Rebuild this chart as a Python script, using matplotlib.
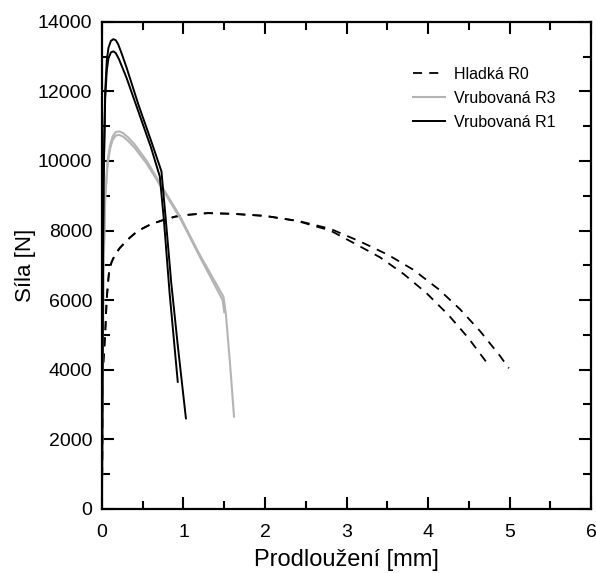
import matplotlib
matplotlib.use("Agg")
import matplotlib.pyplot as plt
from matplotlib.ticker import MultipleLocator

plt.rcParams['font.family'] = ['Liberation Sans Narrow', 'Liberation Sans', 'DejaVu Sans']

# Hladka R0 (two specimens, dashed)
r0a_x = [0, 0.005, 0.015, 0.04, 0.058, 0.075, 0.09, 0.12, 0.16, 0.22, 0.28, 0.34, 0.42,
         0.5, 0.6, 0.75, 0.9, 1.05, 1.3, 1.6, 2.0, 2.4, 2.8, 3.17, 3.51, 3.82, 4.13,
         4.39, 4.64, 4.88, 4.99]
r0a_y = [0, 1500, 4100, 5050, 6000, 6500, 6870, 7100, 7300, 7500, 7650, 7790, 7950,
         8060, 8180, 8300, 8400, 8450, 8500, 8480, 8420, 8280, 8050, 7680, 7300, 6870,
         6310, 5740, 5100, 4400, 4040]
r0b_x = [0, 0.005, 0.015, 0.04, 0.058, 0.075, 0.09, 0.12, 0.16, 0.22, 0.28, 0.34, 0.42,
         0.5, 0.6, 0.75, 0.9, 1.05, 1.3, 1.6, 2.0, 2.4, 2.8, 3.08, 3.41, 3.70, 3.98,
         4.25, 4.49, 4.72]
r0b_y = [0, 1500, 4100, 5050, 6000, 6500, 6870, 7100, 7300, 7500, 7650, 7790, 7950,
         8060, 8180, 8300, 8400, 8450, 8500, 8480, 8420, 8270, 8000, 7650, 7230, 6750,
         6200, 5570, 4920, 4200]

# Vrubovana R3 (two specimens, light grey)
r3a_x = [0, 0.01, 0.02, 0.04, 0.07, 0.1, 0.13, 0.17, 0.21, 0.26, 0.32, 0.4, 0.55, 0.74,
         0.96, 1.2, 1.49, 1.52, 1.57, 1.62]
r3a_y = [0, 4000, 7000, 9000, 10000, 10450, 10700, 10830, 10850, 10800, 10680, 10480,
         10000, 9250, 8400, 7300, 6100, 5600, 4200, 2650]
r3b_x = [0, 0.01, 0.02, 0.04, 0.07, 0.1, 0.13, 0.17, 0.21, 0.26, 0.32, 0.4, 0.55, 0.74,
         0.96, 1.2, 1.48, 1.5]
r3b_y = [0, 4000, 6900, 8900, 9900, 10350, 10600, 10730, 10750, 10700, 10580, 10380,
         9920, 9200, 8350, 7250, 6000, 5650]

# Vrubovana R1 (two specimens, black)
r1a_x = [0, 0.005, 0.01, 0.02, 0.04, 0.06, 0.08, 0.11, 0.14, 0.17, 0.2, 0.24, 0.3, 0.45,
         0.6, 0.73, 0.78, 0.85, 0.93, 1.03]
r1a_y = [0, 3000, 6000, 9500, 12000, 12900, 13250, 13450, 13500, 13470, 13350, 13100,
         12700, 11600, 10600, 9700, 8400, 6500, 4700, 2600]
r1b_x = [0, 0.005, 0.01, 0.02, 0.04, 0.06, 0.08, 0.11, 0.14, 0.17, 0.21, 0.3, 0.45, 0.6,
         0.71, 0.76, 0.83, 0.93]
r1b_y = [0, 3000, 6000, 9300, 11800, 12600, 12950, 13120, 13150, 13100, 12920, 12400,
         11400, 10400, 9550, 8300, 6200, 3650]

fig = plt.figure(figsize=(5.96, 5.73), dpi=100)
ax = fig.add_axes([0.171, 0.112, 0.821, 0.850])

dash = (0, (5, 4))
ax.plot(r0a_x, r0a_y, color='black', lw=1.3, linestyle=dash, label='Hladká R0')
ax.plot(r0b_x, r0b_y, color='black', lw=1.3, linestyle=dash)
ax.plot(r3a_x, r3a_y, color='#b4b4b4', lw=1.5, label='Vrubovaná R3')
ax.plot(r3b_x, r3b_y, color='#b4b4b4', lw=1.5)
ax.plot(r1a_x, r1a_y, color='black', lw=1.4, label='Vrubovaná R1')
ax.plot(r1b_x, r1b_y, color='black', lw=1.4)

ax.set_xlim(0, 6)
ax.set_ylim(0, 14000)
ax.xaxis.set_major_locator(MultipleLocator(1))
ax.xaxis.set_minor_locator(MultipleLocator(0.5))
ax.yaxis.set_major_locator(MultipleLocator(2000))
ax.yaxis.set_minor_locator(MultipleLocator(1000))
ax.tick_params(which='both', direction='in', top=True, right=True, width=1.5)
ax.tick_params(which='major', length=8.5, labelsize=14)
ax.tick_params(which='minor', length=6)
ax.tick_params(axis='x', pad=11)
ax.tick_params(axis='y', pad=7)
for s in ax.spines.values():
    s.set_linewidth(1.6)

ax.set_xlabel('Prodloužení [mm]', fontsize=17, labelpad=6)
ax.set_ylabel('Síla [N]', fontsize=16, labelpad=1)

leg = ax.legend(loc='upper left', bbox_to_anchor=(0.636, 0.907), frameon=False,
                prop={'family': ['Liberation Sans', 'DejaVu Sans'], 'size': 11.5},
                handlelength=2.0, handletextpad=0.55, labelspacing=0.55,
                borderpad=0, borderaxespad=0)

fig.savefig('out.png', dpi=100)
